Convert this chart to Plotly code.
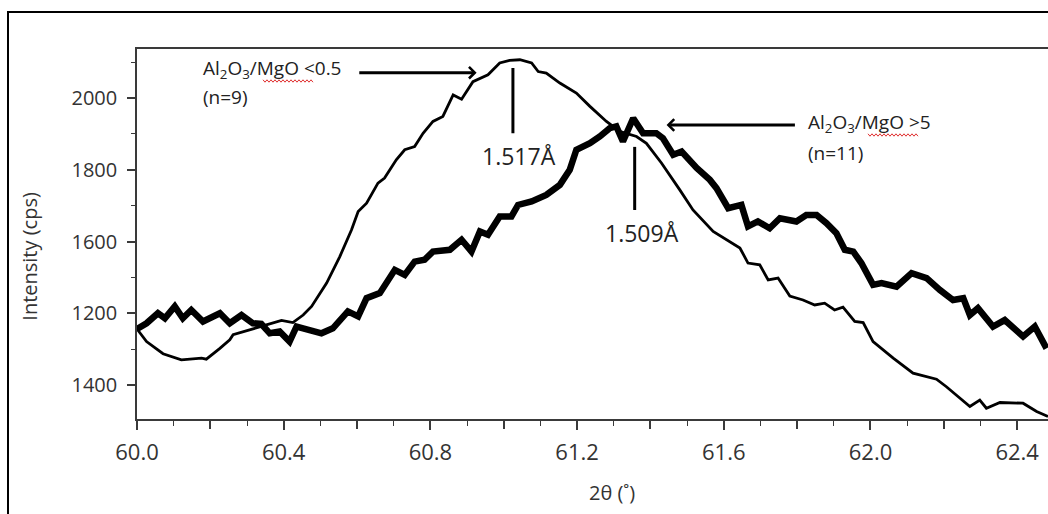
import plotly.graph_objects as go

# Diffraction profiles: 2-theta (deg) vs intensity (cps)
theta_low = [60.000, 60.026, 60.071, 60.121, 60.176, 60.189, 60.226, 60.253, 60.262, 60.307,
             60.344, 60.394, 60.425, 60.453, 60.476, 60.517, 60.553, 60.585, 60.603, 60.626,
             60.657, 60.675, 60.707, 60.730, 60.757, 60.780, 60.807, 60.834, 60.862, 60.885,
             60.916, 60.957, 60.989, 61.016, 61.044, 61.076, 61.094, 61.116, 61.153, 61.198,
             61.235, 61.280, 61.316, 61.362, 61.389, 61.430, 61.480, 61.516, 61.571, 61.644,
             61.666, 61.698, 61.721, 61.748, 61.780, 61.816, 61.848, 61.875, 61.902, 61.925,
             61.957, 61.980, 62.007, 62.062, 62.116, 62.180, 62.207, 62.271, 62.298, 62.316,
             62.353, 62.416, 62.453, 62.484]
counts_low = [1356, 1321, 1287, 1270, 1275, 1272, 1302, 1326, 1340, 1354,
              1365, 1380, 1374, 1395, 1419, 1484, 1558, 1633, 1684, 1707,
              1763, 1777, 1828, 1856, 1865, 1902, 1935, 1949, 2009, 1997,
              2046, 2065, 2098, 2105, 2107, 2098, 2074, 2070, 2042, 2014,
              1977, 1935, 1907, 1893, 1874, 1819, 1744, 1688, 1628, 1582,
              1540, 1535, 1493, 1498, 1448, 1437, 1423, 1428, 1409, 1417,
              1377, 1374, 1321, 1275, 1233, 1216, 1195, 1140, 1158, 1135,
              1151, 1149, 1126, 1112]

theta_high = [60.000, 60.026, 60.057, 60.076, 60.103, 60.125, 60.148, 60.180, 60.226, 60.253,
              60.285, 60.316, 60.339, 60.362, 60.389, 60.416, 60.435, 60.462, 60.503, 60.534,
              60.575, 60.603, 60.626, 60.662, 60.703, 60.730, 60.757, 60.784, 60.807, 60.853,
              60.885, 60.912, 60.935, 60.957, 60.989, 61.021, 61.039, 61.076, 61.116, 61.153,
              61.180, 61.198, 61.235, 61.262, 61.289, 61.307, 61.325, 61.353, 61.380, 61.416,
              61.434, 61.462, 61.485, 61.526, 61.562, 61.580, 61.612, 61.648, 61.666, 61.693,
              61.725, 61.753, 61.798, 61.825, 61.853, 61.880, 61.907, 61.930, 61.953, 61.975,
              62.007, 62.030, 62.071, 62.112, 62.153, 62.189, 62.225, 62.253, 62.271, 62.293,
              62.334, 62.366, 62.393, 62.416, 62.448, 62.480]
counts_high = [1356, 1372, 1400, 1386, 1419, 1386, 1409, 1377, 1400, 1372,
               1395, 1372, 1370, 1344, 1349, 1321, 1363, 1354, 1344, 1358,
               1405, 1391, 1442, 1456, 1521, 1507, 1544, 1549, 1572, 1577,
               1605, 1572, 1628, 1619, 1670, 1670, 1702, 1712, 1730, 1758,
               1800, 1856, 1874, 1893, 1916, 1921, 1879, 1944, 1902, 1902,
               1888, 1842, 1851, 1805, 1772, 1749, 1693, 1702, 1642, 1656,
               1637, 1665, 1656, 1674, 1674, 1651, 1623, 1577, 1572, 1540,
               1479, 1484, 1474, 1512, 1498, 1465, 1437, 1442, 1395, 1414,
               1363, 1381, 1358, 1335, 1363, 1302]

# Peak markers (2-theta) and their d-spacing labels
peak_theta = [61.025, 61.357]
peak_labels = ["1.517Å", "1.509Å"]

# Group labels
group_labels = ["Al<sub>2</sub>O<sub>3</sub>/MgO &lt;0.5",
                "Al<sub>2</sub>O<sub>3</sub>/MgO &gt;5"]
group_counts = ["(n=9)", "(n=11)"]

# Axis ticks: labelled every 0.4 deg, long ticks every 0.2 deg, short every 0.1 deg
x_label_vals = [60.0, 60.4, 60.8, 61.2, 61.6, 62.0, 62.4]
x_label_text = ["60.0", "60.4", "60.8", "61.2", "61.6", "62.0", "62.4"]
x_long_ticks = [60.0, 60.2, 60.4, 60.6, 60.8, 61.0, 61.2, 61.4, 61.6, 61.8, 62.0, 62.2, 62.4]
y_tickvals = [1200, 1400, 1600, 1800, 2000]
y_ticktext = ["1400", "1200", "1600", "1800", "2000"]

FONT = "Open Sans"
INK = "#222222"
AXIS = "#3a3a3a"
X_RANGE = [60.0, 62.484]
Y_RANGE = [1105, 2137]

W, H = 1048, 514
ML, MT, MB = 137, 49, 95
PW, PH = W - ML, H - MT - MB


def paper(px, py):
    """Figure pixel position -> paper coordinates."""
    return (px - ML) / PW, (H - MB - py) / PH


fig = go.Figure()

fig.add_trace(go.Scatter(x=theta_low, y=counts_low, mode="lines",
                         line=dict(color="black", width=2.8), name="Al2O3/MgO <0.5"))
fig.add_trace(go.Scatter(x=theta_high, y=counts_high, mode="lines",
                         line=dict(color="black", width=6.5), name="Al2O3/MgO >5"))
# invisible carrier so the tick-only overlay axis is drawn
fig.add_trace(go.Scatter(x=theta_low[:1], y=counts_low[:1], xaxis="x2", mode="markers",
                         marker=dict(opacity=0), hoverinfo="skip", showlegend=False))

shapes = []
# outer frame of the figure panel
fx0, fy1 = paper(8, 12)
shapes.append(dict(type="rect", xref="paper", yref="paper", x0=fx0, x1=1.3, y0=-0.6, y1=fy1,
                   line=dict(color="black", width=2), layer="below"))

# vertical peak ticks
shapes.append(dict(type="line", xref="x", yref="y", x0=peak_theta[0], x1=peak_theta[0],
                   y0=1902, y1=2084, line=dict(color="black", width=3)))
shapes.append(dict(type="line", xref="x", yref="y", x0=peak_theta[1], x1=peak_theta[1],
                   y0=1688, y1=1864, line=dict(color="black", width=3)))


# red spell-check squiggles under "MgO"
def squiggle(x0, x1, y):
    pts = []
    step = 2.0
    k = 0
    px = x0
    while px <= x1:
        yy = y + (1.2 if k % 2 else -1.2)
        u, v = paper(px, yy)
        pts.append(("M" if k == 0 else "L") + f"{u:.5f},{v:.5f}")
        px += step
        k += 1
    return " ".join(pts)


shapes.append(dict(type="path", xref="paper", yref="paper", path=squiggle(263, 313, 81),
                   line=dict(color="#e03030", width=1)))
shapes.append(dict(type="path", xref="paper", yref="paper", path=squiggle(868, 918, 135),
                   line=dict(color="#e03030", width=1)))

annotations = []
# arrows
annotations.append(dict(x=60.926, y=2071, ax=60.602, ay=2071, xref="x", yref="y",
                        axref="x", ayref="y", text="", showarrow=True, arrowhead=4,
                        arrowsize=0.75, arrowwidth=3, arrowcolor="black"))
annotations.append(dict(x=61.444, y=1925, ax=61.798, ay=1925, xref="x", yref="y",
                        axref="x", ayref="y", text="", showarrow=True, arrowhead=4,
                        arrowsize=0.75, arrowwidth=3, arrowcolor="black"))

lab_font = dict(family=FONT, size=19, color=INK)
annotations.append(dict(x=60.174, y=2081, xref="x", yref="y", xanchor="left", yanchor="middle",
                        text=group_labels[0], showarrow=False, font=lab_font))
annotations.append(dict(x=60.174, y=2002, xref="x", yref="y", xanchor="left", yanchor="middle",
                        text=group_counts[0], showarrow=False, font=lab_font))
annotations.append(dict(x=61.824, y=1930, xref="x", yref="y", xanchor="left", yanchor="middle",
                        text=group_labels[1], showarrow=False, font=lab_font))
annotations.append(dict(x=61.824, y=1846, xref="x", yref="y", xanchor="left", yanchor="middle",
                        text=group_counts[1], showarrow=False, font=lab_font))

peak_font = dict(family=FONT, size=23, color=INK)
annotations.append(dict(x=61.041, y=1838, xref="x", yref="y", xanchor="center",
                        yanchor="middle", text=peak_labels[0], showarrow=False, font=peak_font))
annotations.append(dict(x=61.378, y=1624, xref="x", yref="y", xanchor="center",
                        yanchor="middle", text=peak_labels[1], showarrow=False, font=peak_font))

# axis titles
tx, ty = paper(30, 256.7)
annotations.append(dict(x=tx, y=ty, xref="paper", yref="paper", xanchor="center",
                        yanchor="middle", textangle=-90, text="Intensity (cps)",
                        showarrow=False, font=dict(family=FONT, size=20, color="#333333")))
tx, ty = paper(612, 492)
annotations.append(dict(x=tx, y=ty, xref="paper", yref="paper", xanchor="center",
                        yanchor="middle", text="2θ (˚)", showarrow=False,
                        font=dict(family=FONT, size=20, color="#333333")))

fig.update_layout(
    width=W, height=H, autosize=False,
    margin=dict(l=ML, r=0, t=MT, b=MB, pad=0),
    paper_bgcolor="white", plot_bgcolor="white",
    showlegend=False,
    shapes=shapes, annotations=annotations,
    xaxis=dict(range=X_RANGE, tickmode="array", tickvals=x_label_vals,
               ticktext=x_label_text, ticks="outside", ticklen=9, tickwidth=1.5,
               tickcolor=AXIS, showline=True, linecolor=AXIS, linewidth=1.5, mirror=True,
               showgrid=False, zeroline=False, ticklabelstandoff=4,
               tickfont=dict(family=FONT, size=22, color="#333333"),
               minor=dict(ticks="outside", ticklen=5, tickwidth=1.2, tickcolor=AXIS,
                          dtick=0.1, tick0=60.0, showgrid=False)),
    xaxis2=dict(range=X_RANGE, overlaying="x", anchor="y", side="bottom",
                tickmode="array", tickvals=x_long_ticks, ticks="outside", ticklen=9,
                tickwidth=1.5, tickcolor=AXIS, showticklabels=False, showline=False,
                showgrid=False, zeroline=False),
    yaxis=dict(range=Y_RANGE, tickmode="array", tickvals=y_tickvals,
               ticktext=y_ticktext, ticks="outside", ticklen=8, tickwidth=1.5,
               tickcolor=AXIS, showline=True, linecolor=AXIS, linewidth=1.5,
               showgrid=False, zeroline=False, ticklabelstandoff=6,
               tickfont=dict(family=FONT, size=20, color="#333333"),
               minor=dict(ticks="outside", ticklen=4, tickwidth=1.2, tickcolor=AXIS,
                          dtick=100, tick0=1100, showgrid=False)),
)

fig.write_html("out.html", config={"displayModeBar": False})
